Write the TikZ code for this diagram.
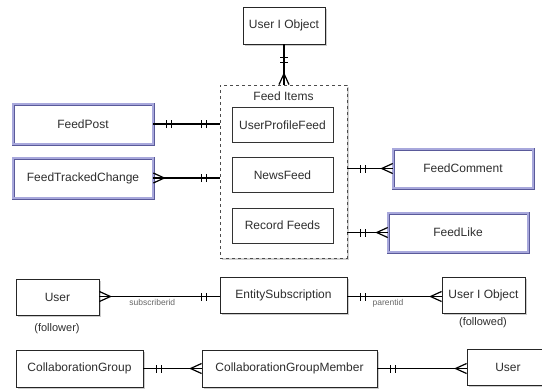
\documentclass[tikz,border=0pt]{standalone}
\usepackage{fontspec}
\setmainfont{Liberation Sans}
\usetikzlibrary{shadows,decorations.markings,calc}
\definecolor{txt}{HTML}{2E2E2E}
\definecolor{lav}{HTML}{A8A8DC}
\definecolor{lavdark}{HTML}{5A5A9A}
\definecolor{lbl}{HTML}{666666}
\begin{document}
\begin{tikzpicture}[x=1pt,y=-1pt,
  box/.style={draw=black!85, line width=0.9pt, fill=white, text=txt,
    font=\fontsize{12}{14}\selectfont, inner sep=0pt,
    drop shadow={shadow xshift=1.8pt, shadow yshift=-2pt, opacity=0.4}},
  dbox/.style={box, draw=lavdark, line width=0.6pt, double=lav, double distance=1.8pt},
  ibox/.style={draw=black!80, line width=0.8pt, fill=white, text=txt,
    font=\fontsize{12}{14}\selectfont, inner sep=0pt,
    minimum width=101pt, minimum height=35pt},
  conn/.style={draw=black, line width=1.4pt},
  barsA/.style={postaction={decorate,decoration={markings,
    mark=at position 13pt with {\draw[line width=1.2pt] (0,-4pt)--(0,4pt);},
    mark=at position 18pt with {\draw[line width=1.2pt] (0,-4pt)--(0,4pt);}}}},
  barsB/.style={postaction={decorate,decoration={markings,
    mark=at position -13pt with {\draw[line width=1.2pt] (0,-4pt)--(0,4pt);},
    mark=at position -18pt with {\draw[line width=1.2pt] (0,-4pt)--(0,4pt);}}}},
  crowA/.style={postaction={decorate,decoration={markings,
    mark=at position 11pt with {\draw[line width=1.2pt] (-11pt,5pt)--(0,0)--(-11pt,-5pt);}}}},
  crowB/.style={postaction={decorate,decoration={markings,
    mark=at position -11pt with {\draw[line width=1.2pt] (11pt,5pt)--(0,0)--(11pt,-5pt);}}}},
  small/.style={text=lbl, font=\fontsize{8.5}{9}\selectfont, inner sep=0pt},
  note/.style={text=txt, font=\fontsize{11}{13}\selectfont, inner sep=0pt}
]
\useasboundingbox (0,0) rectangle (542,389);
\fill[white] (0,0) rectangle (542,389);

% Feed Items container
\node[draw=black!70, dashed, line width=0.8pt, fill=white,
  drop shadow={shadow xshift=1.8pt, shadow yshift=-2pt, opacity=0.35},
  minimum width=127pt, minimum height=173pt, inner sep=0pt] (fi) at (283.5,171.5) {};
\node[text=txt, font=\fontsize{12}{14}\selectfont] (fil) at (283.5,96) {Feed Items};
\node[ibox] (upf) at (282.5,125) {UserProfileFeed};
\node[ibox] (nf) at (282.5,175) {NewsFeed};
\node[ibox] (rf) at (282.5,225.5) {Record Feeds};

% top entity
\node[box, minimum width=82pt, minimum height=37pt] (uo1) at (284,25.5) {User I Object};

% left / right entities
\node[dbox, minimum width=140pt, minimum height=40pt] (fp) at (83,124) {FeedPost};
\node[dbox, minimum width=140pt, minimum height=40pt] (ftc) at (83,178) {FeedTrackedChange};
\node[dbox, minimum width=140pt, minimum height=39pt] (fc) at (463,168.5) {FeedComment};
\node[dbox, minimum width=140pt, minimum height=39pt] (fl) at (458,232.5) {FeedLike};

% subscription row
\node[box, minimum width=83pt, minimum height=36pt] (u1) at (57.5,297) {User};
\node[box, minimum width=127pt, minimum height=36pt] (es) at (283.5,295) {EntitySubscription};
\node[box, minimum width=83pt, minimum height=36pt] (uo2) at (483.5,295) {User I Object};
\node[note] (fol1) at (57,329) {(follower)};
\node[note] (fol2) at (483,323) {(followed)};

% collaboration row
\node[box, minimum width=127pt, minimum height=37pt] (cg) at (79.5,368.5) {CollaborationGroup};
\node[box, minimum width=175pt, minimum height=37pt] (cgm) at (289.5,368.5) {CollaborationGroupMember};
\node[box, minimum width=82pt, minimum height=36pt] (u2) at (508,367) {User};

% connectors
\draw[conn, barsA, crowB] (uo1.south) -- (uo1.south |- fi.north);
\draw[conn, barsA, barsB] (fp.east) -- (fp.east -| fi.west);
\draw[conn, crowA, barsB] (ftc.east) -- (ftc.east -| fi.west);
\draw[conn, barsA, crowB] (fc.west -| fi.east) -- (fc.west);
\draw[conn, barsA, crowB] (fl.west -| fi.east) -- (fl.west);

\draw[conn, crowA, barsB] (u1.east |- 0,296.5) coordinate (s1) -- (es.west |- s1)
  node[small, pos=0.44, below=2pt] (lsub) {subscriberid};
\draw[conn, barsA, crowB] (es.east |- 0,296.5) coordinate (s2) -- (uo2.west |- s2)
  node[small, pos=0.43, below=2pt] (lpar) {parentid};

\draw[conn, barsA, crowB] (cg.east) -- (cgm.west);
\draw[conn, barsA, crowB] (cgm.east) -- (cgm.east -| u2.west);
\end{tikzpicture}
\end{document}
